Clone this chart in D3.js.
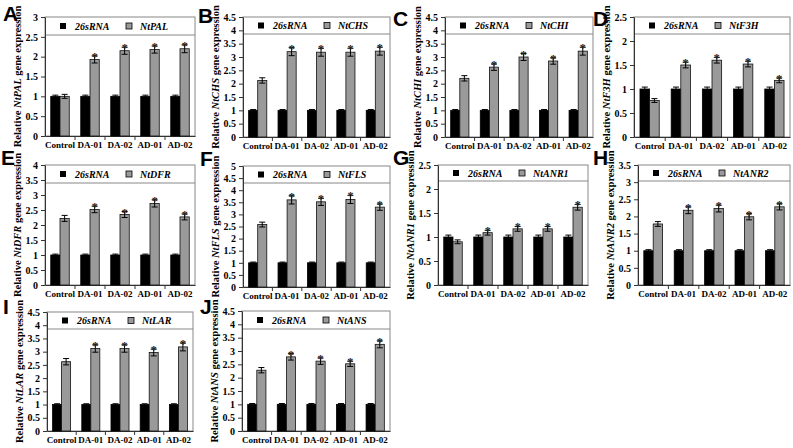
<!DOCTYPE html>
<html><head><meta charset="utf-8">
<script src="https://cdn.jsdelivr.net/npm/d3@7/dist/d3.min.js"></script>
<style>body{margin:0;background:#fff}svg{display:block}</style>
</head><body>
<svg id="c" width="793" height="448"></svg>
<script>
// ---------- data ----------
const categories = ["Control", "DA-01", "DA-02", "AD-01", "AD-02"];
const panelLetters = ["A","B","C","D","E","F","G","H","I","J"];
const genes = ["NtPAL","NtCHS","NtCHI","NtF3H","NtDFR","NtFLS","NtANR1","NtANR2","NtLAR","NtANS"];
const yMaxes = [3, 4.5, 4.5, 2.5, 4, 5, 2.5, 3.5, 4.5, 4.5];
const refName = "26sRNA";
const refValues = [1, 1, 1, 1, 1];
const refErrSmall = [0.03, 0.03, 0.03, 0.03, 0.03];
const refErrLarge = [0.04, 0.04, 0.04, 0.04, 0.04];
const significant = [false, true, true, true, true];

const NtPAL     = [1.00, 1.93, 2.15, 2.18, 2.20];
const NtPAL_err = [0.05, 0.09, 0.09, 0.09, 0.10];
const NtCHS     = [2.12, 3.20, 3.18, 3.18, 3.22];
const NtCHS_err = [0.10, 0.15, 0.15, 0.15, 0.15];
const NtCHI     = [2.20, 2.62, 3.00, 2.85, 3.22];
const NtCHI_err = [0.10, 0.12, 0.13, 0.12, 0.15];
const NtF3H     = [0.76, 1.50, 1.60, 1.52, 1.18];
const NtF3H_err = [0.04, 0.06, 0.06, 0.06, 0.05];
const NtDFR     = [2.22, 2.52, 2.35, 2.72, 2.27];
const NtDFR_err = [0.10, 0.11, 0.10, 0.12, 0.10];
const NtFLS     = [2.58, 3.60, 3.52, 3.62, 3.30];
const NtFLS_err = [0.10, 0.17, 0.15, 0.17, 0.13];
const NtANR1     = [0.90, 1.09, 1.17, 1.17, 1.62];
const NtANR1_err = [0.04, 0.05, 0.05, 0.05, 0.06];
const NtANR2     = [1.78, 2.18, 2.23, 1.99, 2.28];
const NtANR2_err = [0.07, 0.10, 0.10, 0.09, 0.09];
const NtLAR     = [2.62, 3.12, 3.12, 2.97, 3.18];
const NtLAR_err = [0.12, 0.14, 0.14, 0.13, 0.15];
const NtANS     = [2.28, 2.78, 2.62, 2.52, 3.25];
const NtANS_err = [0.10, 0.12, 0.12, 0.10, 0.13];

const geneValues = [NtPAL, NtCHS, NtCHI, NtF3H, NtDFR, NtFLS, NtANR1, NtANR2, NtLAR, NtANS];
const geneErrs = [NtPAL_err, NtCHS_err, NtCHI_err, NtF3H_err, NtDFR_err, NtFLS_err, NtANR1_err, NtANR2_err, NtLAR_err, NtANS_err];
const refErrs = [refErrSmall, refErrSmall, refErrSmall, refErrLarge, refErrSmall, refErrSmall, refErrLarge, refErrSmall, refErrSmall, refErrSmall];

// ---------- layout (positions only) ----------
const layout = [
  {l:45,  r:195, t:17,  b:136, leg:35,  lx:3,   ly:21},
  {l:243, r:390, t:17,  b:137, leg:34,  lx:198, ly:23},
  {l:445, r:593, t:17,  b:137, leg:34,  lx:393, ly:26},
  {l:634, r:790, t:17,  b:137, leg:34,  lx:593, ly:26},
  {l:45,  r:195, t:165, b:285, leg:183, lx:1,   ly:165},
  {l:243, r:390, t:166, b:287, leg:183, lx:200, ly:166},
  {l:438, r:588, t:165, b:285, leg:181, lx:393, ly:165},
  {l:638, r:790, t:165, b:285, leg:181, lx:593, ly:165},
  {l:47,  r:193, t:312, b:431, leg:329, lx:3,   ly:314},
  {l:242, r:390, t:311, b:431, leg:329, lx:200, ly:314}
];

const serif = "'Liberation Serif','Times New Roman',serif";
const sans = "'Liberation Sans',Arial,sans-serif";
const svg = d3.select("#c");
const grayFill = "#9a9a9a";

panelLetters.forEach((letter, i) => {
  const L = layout[i];
  const g = svg.append("g");
  const x = d3.scaleBand().domain(categories).range([L.l, L.r]).padding(0);
  const x1 = d3.scaleBand().domain(["ref","gene"]).range([0, x.bandwidth()]).paddingInner(0).paddingOuter(0.62);
  const y = d3.scaleLinear().domain([0, yMaxes[i]]).range([L.b, L.t]);

  // box
  g.append("rect").attr("x", L.l).attr("y", L.t).attr("width", L.r - L.l).attr("height", L.b - L.t)
    .attr("fill", "none").attr("stroke", "#888").attr("stroke-width", 1);
  g.append("line").attr("x1", L.l).attr("x2", L.r).attr("y1", L.leg).attr("y2", L.leg)
    .attr("stroke", "#888").attr("stroke-width", 1);

  // y axis
  const ticks = d3.range(0, yMaxes[i] + 0.001, 0.5);
  const ya = g.append("g").attr("transform", `translate(${L.l},0)`)
    .call(d3.axisLeft(y).tickValues(ticks).tickSize(4).tickSizeOuter(0).tickFormat(d => d3.format("")(+d.toFixed(1))));
  ya.select(".domain").attr("stroke", "#333");
  ya.selectAll(".tick line").attr("stroke", "#333");
  ya.selectAll("text").attr("font-family", serif).attr("font-weight", "bold").attr("font-size", 10).attr("fill", "#000");

  // x axis
  const xa = g.append("g").attr("transform", `translate(0,${L.b})`)
    .call(d3.axisBottom(x).tickSize(0).tickPadding(6));
  xa.select(".domain").attr("stroke", "#333");
  xa.selectAll("text").attr("font-family", serif).attr("font-weight", "bold").attr("font-size", 9).attr("fill", "#000");
  categories.slice(1).forEach(c => {
    g.append("line").attr("x1", x(c)).attr("x2", x(c)).attr("y1", L.b).attr("y2", L.b + 4).attr("stroke", "#333");
  });

  // bars
  const data = categories.map((c, k) => ({c, ref: refValues[k], refErr: refErrs[i][k], v: geneValues[i][k], e: geneErrs[i][k], sig: significant[k]}));
  const bw = x1.bandwidth();
  data.forEach(d => {
    const xr = x(d.c) + x1("ref"), xg = x(d.c) + x1("gene");
    g.append("rect").attr("x", xr).attr("y", y(d.ref)).attr("width", bw).attr("height", y(0) - y(d.ref))
      .attr("fill", "#000").attr("stroke", "#000").attr("stroke-width", 0.8);
    g.append("rect").attr("x", xg).attr("y", y(d.v)).attr("width", bw).attr("height", y(0) - y(d.v))
      .attr("fill", grayFill).attr("stroke", "#111").attr("stroke-width", 0.8);
    // error bars
    [[xr, d.ref, d.refErr], [xg, d.v, d.e]].forEach(([bx, v, e]) => {
      const cx = bx + bw / 2, cw = 3;
      g.append("line").attr("x1", cx).attr("x2", cx).attr("y1", y(v - e)).attr("y2", y(v + e)).attr("stroke", "#000").attr("stroke-width", 1);
      [v - e, v + e].forEach(yy => g.append("line").attr("x1", cx - cw).attr("x2", cx + cw).attr("y1", y(yy)).attr("y2", y(yy)).attr("stroke", "#000").attr("stroke-width", 1));
    });
    if (d.sig) {
      g.append("text").attr("x", xg + bw / 2).attr("y", y(d.v + d.e) + 5).attr("text-anchor", "middle")
        .attr("font-family", serif).attr("font-weight", "bold").attr("font-size", 12).attr("fill", "#222").text("*");
    }
  });

  // legend
  const legY = (L.t + L.leg) / 2;
  const lx0 = L.l + 15;
  g.append("rect").attr("x", lx0).attr("y", legY - 3).attr("width", 6).attr("height", 6).attr("fill", "#000");
  g.append("text").attr("x", L.l + 30).attr("y", legY + 3.5).attr("font-family", serif).attr("font-weight", "bold")
    .attr("font-style", "italic").attr("font-size", 10).text(refName);
  const lx1 = L.l + 81;
  g.append("rect").attr("x", lx1).attr("y", legY - 3).attr("width", 6).attr("height", 6).attr("fill", grayFill).attr("stroke", "#000").attr("stroke-width", 0.8);
  g.append("text").attr("x", L.l + 95).attr("y", legY + 3.5).attr("font-family", serif).attr("font-weight", "bold")
    .attr("font-style", "italic").attr("font-size", 10).text(genes[i]);

  // y title
  const t = g.append("text").attr("transform", `translate(${L.l - 24},${(L.t + L.b) / 2}) rotate(-90)`)
    .attr("text-anchor", "middle").attr("font-family", serif).attr("font-weight", "bold").attr("font-size", 10.5);
  t.append("tspan").text("Relative ");
  t.append("tspan").attr("font-style", "italic").text(genes[i]);
  t.append("tspan").text(" gene expression");

  // panel letter
  svg.append("text").attr("x", L.lx).attr("y", L.ly).attr("font-family", sans).attr("font-weight", "bold")
    .attr("font-size", 21).text(letter);
});
</script>
</body></html>
